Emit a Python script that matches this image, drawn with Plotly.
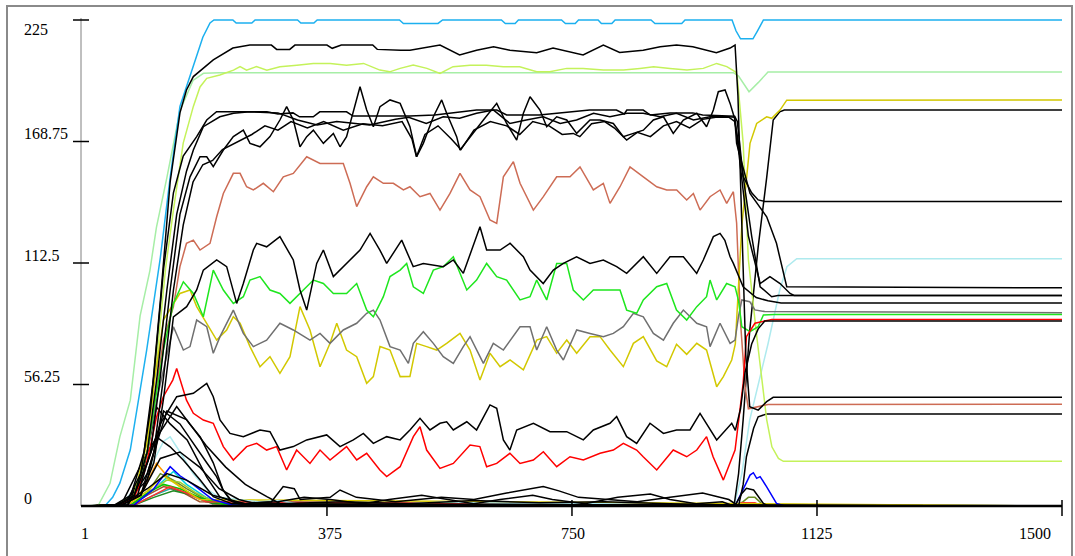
import plotly.graph_objects as go

# ---------------- data ----------------
blue_x = [1, 35, 47, 58, 74, 99, 120, 135, 150, 165, 185, 196, 202, 231, 236, 260, 265, 330, 335, 355,
          360, 486, 492, 545, 552, 642, 648, 663, 668, 734, 740, 755, 760, 790, 795, 811, 816, 871, 877, 918,
          923, 995, 1001, 1008, 1027, 1034, 1043, 1500]
blue_y = [0, 0, 4, 10.6, 26, 72, 115, 152, 185, 199, 217, 223.6, 225, 225, 223.6, 223.6, 225, 225, 223.6, 223.6,
          225, 225, 223.4, 223.4, 225, 225, 223.4, 223.4, 225, 225, 223.4, 223.4, 225, 225, 223.4, 223.4, 225, 225, 223.4, 223.4,
          225, 225, 220, 216.3, 216.3, 220, 225, 225]

pg_x = [1, 25, 43, 58, 74, 89, 104, 114, 130, 150, 170, 186, 210, 997, 1005, 1012, 1021, 1035, 1050, 1500]
pg_y = [0, 0.3, 10.5, 32, 49, 88, 109, 129, 152, 183, 197, 200.3, 200.6, 200.6, 199, 196, 191.8, 196, 200.9, 200.9]

gy_x = [1, 50, 80, 100, 115, 128, 140, 155, 170.5, 180.7, 191, 211, 232, 242, 252, 267, 283, 303, 329, 354,
        380, 405, 431, 456, 471, 487, 507, 528, 548, 568, 594, 619, 645, 670, 696, 716, 742, 767, 798, 829,
        854, 875, 900, 926, 951, 971.5, 987, 1000, 1003, 1012, 1020, 1033, 1048, 1056, 1066, 1073.5, 1500]
gy_y = [0, 0.3, 5, 30, 70, 110, 137, 168, 185, 194, 198, 199.5, 201.8, 203.4, 201.8, 203.4, 201.8, 203.4, 204.1, 204.9,
        204.9, 204.1, 204.9, 201.8, 201, 202.6, 204.1, 202.6, 200.3, 203.4, 204.1, 204.1, 203.4, 203.4, 201, 201, 202.6, 202.6, 201.8, 201.8,
        202.6, 203.4, 202.6, 201.8, 202.6, 204.9, 203.4, 201, 198.7, 168, 114, 78, 40, 27.4, 22, 20.7, 20.7]

k1_x = [1, 50, 70, 90, 105, 120, 135, 150, 160, 170.5, 201, 231, 257, 290, 298, 318, 326, 375, 383, 397,
        445, 452, 488, 502, 548, 578, 604, 630, 655, 696, 721, 767, 798, 823, 859, 885, 910, 935, 971, 992,
        999.6, 1004, 1010, 1016, 1022, 1035, 1048, 1058, 1500]
k1_y = [0, 0.3, 3, 15, 45, 95, 150, 182, 192.6, 198.8, 206.5, 212, 213.4, 213.4, 211.4, 211.4, 213.4, 213.4, 211.9, 213.4,
        213.4, 211.4, 211, 211, 213.4, 208.8, 211, 212.6, 211, 209.8, 212, 208.8, 213.4, 210, 211, 212.6, 213.4, 212.6, 209.8, 212,
        213.4, 190, 130, 70, 46, 44.4, 48.3, 50.3, 50.3]

k2_x = [1, 50, 75, 95, 110, 125, 140, 155, 175.6, 191, 206, 283, 300, 323, 333, 354, 364, 405, 415, 502,
        540, 604, 635, 650, 700, 777, 818, 830, 834, 859, 870, 900, 935, 950, 999, 1003, 1012, 1025, 1035, 1045, 1500]
k2_y = [0, 0.5, 5, 25, 60, 110, 145, 162, 171, 178.7, 182.5, 182.5, 181.5, 182, 180.2, 180.2, 182.5, 182.5, 180.5, 180.5,
        181, 183.3, 183.3, 181, 181, 183.3, 183.3, 181.5, 183.3, 183.3, 181, 182, 182, 181, 180.5, 178, 152.5, 145, 141.7, 141, 141]

k3_x = [1, 55, 80, 100, 115, 130, 145, 160, 170.5, 185.8, 211, 232, 257, 300, 330, 360, 390, 420, 440, 480,
        500, 527, 553, 578, 604, 630, 655, 680, 706, 732, 757, 783, 808, 834, 859, 885, 910, 936, 961, 990,
        999, 1002, 1022.5, 1048, 1063, 1078.7, 1500]
k3_y = [0, 0.5, 5, 25, 60, 100, 135, 155, 164.8, 175.6, 180.2, 181.8, 182.5, 182, 178.7, 176.4, 178, 177, 176.4, 179,
        180, 177.1, 180.2, 179.5, 181.8, 183.3, 177.1, 178.7, 180.2, 177.1, 178.7, 181.8, 180.2, 181.8, 181.8, 180.2, 181.8, 178.7, 180.2, 180.2,
        180, 167.9, 144.7, 133.9, 121.6, 101.5, 101]

k4_x = [1, 55, 85, 105, 120, 135, 150, 165.4, 180.7, 191, 201, 216.4, 231.7, 247, 257.2, 272.5, 287.8, 303, 313.3, 323.5,
        333.7, 344, 354.2, 369.5, 384.8, 395, 405, 415.4, 425.6, 435.8, 446, 456.2, 471.5, 487, 502, 512.3, 522.5, 537.8, 550.6, 558.2,
        573.5, 578.6, 594, 614.4, 634.8, 650, 665.4, 675.6, 685.8, 701, 711.3, 726.6, 742, 757.2, 777.6, 793, 813.3, 828.6, 844, 859.2,
        874.6, 890, 905, 920.5, 941, 956, 966.4, 974, 984.3, 992, 999.6, 1007, 1020, 1038, 1053, 1068.5, 1083.8, 1090, 1500]
k4_y = [0, 0.3, 5, 25, 60, 100, 135, 152.4, 161.7, 161.7, 157.1, 164.8, 171, 174, 167.9, 166.3, 171, 178.7, 184.9, 178.7,
        166.3, 171, 174, 167.9, 172.5, 166.3, 171, 183.3, 194.1, 183.3, 175.6, 184.9, 188, 186.4, 175.6, 161.7, 167.9, 180.2, 188, 181.8,
        171, 164.8, 171, 178.7, 186.4, 177.1, 169.4, 181.8, 189.5, 183.3, 175.6, 180.2, 178.7, 172.5, 178.7, 178.7, 177.1, 171, 172.5, 174,
        178.7, 180.2, 172.5, 178.7, 181.8, 175.6, 183.3, 191.8, 192.6, 186.4, 178.7, 160.2, 125, 103, 106.2, 103, 98.4, 97.5, 97.5]

k4b_x = [1, 60, 90, 110, 125, 140, 155, 170, 185, 200, 215, 235, 260, 280, 300, 320, 345, 370, 400, 430,
         460, 490, 505, 512, 525, 545, 565, 580, 600, 625, 650, 670, 690, 715, 735, 752, 762, 780, 800, 815,
         823.5, 833.7, 850, 870, 890, 910, 930, 950, 970, 990, 999, 1005, 1012, 1025, 1038, 1055.7, 1065, 1500]
k4b_y = [0, 0.3, 5, 25, 60, 100, 130, 150, 158, 160, 165, 168, 172, 176, 174, 178, 175, 178, 174, 177,
         176, 178, 170, 161.7, 172, 176, 170, 165, 174, 178, 176, 172, 178, 176, 172, 172.5, 171, 177, 178, 175,
         172.5, 169.4, 173, 171, 176, 178, 175, 179, 180, 180, 178, 168, 152.5, 125, 101.5, 96.9, 97.5, 97.5]

k5_x = [1, 60, 90, 110, 125, 140, 160.3, 175.6, 185.8, 206.2, 221.5, 236.8, 247, 262.3, 267.4, 282.7, 303, 323.5, 333.7, 344,
        359.3, 369.5, 384.8, 405, 425.6, 441, 456, 466.4, 489.4, 507, 522.5, 553, 568.4, 583.7, 596, 609.2, 619.4, 640, 655.2, 675.6,
        685.8, 706, 721.5, 736.8, 757, 777.6, 798, 818.4, 833.7, 859.2, 879.7, 900, 920.5, 940.9, 951, 966.4, 976.6, 984, 992, 997,
        1012, 1032, 1050, 1070, 1500]
k5_y = [0, 0.3, 5, 20, 50, 87.6, 92.3, 100, 109.2, 113.9, 110.8, 93.8, 103, 118.5, 121.6, 120, 124.7, 113.9, 100, 90.7,
        112.3, 118.5, 106.2, 112.3, 118.5, 126.2, 118.5, 112.3, 123.1, 110.8, 112.3, 110.8, 113.9, 107.7, 118, 129.3, 118.5, 118.5, 121.6, 115.4,
        109.2, 103, 109.2, 112.3, 115.4, 112.3, 113.9, 110.8, 107.7, 115.4, 107.7, 115.4, 115.4, 107.7, 113.9, 124.7, 126.2, 123, 115.4, 112.3,
        101.5, 96.5, 95, 94, 94]

k6_x = [1, 55, 80, 100, 120, 145, 170.5, 191, 201, 211.3, 226.6, 247, 272.5, 287.8, 303, 323.5, 344, 374.6, 395, 415.4,
        430.7, 446, 466.4, 487, 502, 517.4, 532.7, 548, 558.2, 568.4, 589, 604, 624.5, 634.8, 645, 655, 665.4, 691, 716.4, 742,
        767.4, 782.7, 808.2, 818.4, 833.7, 849, 869.4, 890, 910, 930.7, 946, 961.3, 971.5, 994.5, 1000, 1008, 1015, 1025, 1035, 1045, 1500]
k6_y = [0, 0.3, 5, 20, 38, 50.6, 52.2, 56.8, 50.6, 39.8, 33.6, 32.1, 35.2, 34.4, 25.9, 27.5, 30.6, 32.9, 27.5, 30.6,
        33.6, 29, 32.1, 30.6, 35.2, 40.6, 35.2, 38.3, 39, 35.2, 39, 35.2, 46.8, 45.2, 30.6, 25.9, 35.2, 38.3, 34.4, 34.4,
        30.6, 35.2, 38.3, 41.4, 32.1, 29, 38.3, 33.6, 35.2, 35.2, 42.9, 35.2, 30.6, 38.3, 35, 45, 62, 75, 82, 85.6, 85.6]

red_x = [1, 55, 80, 95, 105, 114, 124.5, 139, 145, 160, 170.5, 185.8, 201, 216.4, 231.7, 252, 267.4, 282.7, 298, 313.3,
         328.6, 349, 364.4, 379.7, 405, 420.5, 435.8, 456, 466.4, 487, 507.2, 517.4, 527.6, 548, 568.4, 594, 609, 619.4, 634.8, 655,
         670.5, 690.9, 706.2, 726.6, 747, 767.4, 793, 813.3, 828.6, 849, 859, 879.7, 905, 925.6, 941, 956, 966, 981.7, 999.6, 1012,
         1017, 1030, 1056, 1500]
red_y = [0, 0.3, 4, 15, 28, 41, 50.6, 58.3, 63.7, 49, 42.9, 39.8, 38.3, 27.5, 21.3, 27.5, 29, 25.9, 27.5, 16.7,
         25.9, 19.7, 25.9, 21.3, 27.5, 21.3, 24.4, 16.7, 13.6, 18.2, 32.1, 36.7, 25.9, 17.4, 19.7, 28.2, 27.5, 18.2, 19.7, 24.4,
         19.7, 21.3, 25.1, 18.2, 22.8, 21.3, 24.4, 25.9, 29, 25.9, 22.8, 16.7, 25.9, 22.8, 25.9, 32.1, 22.8, 12, 25.9, 56.8,
         78.4, 84.6, 86.4, 86.4]

green_x = [1, 55, 80, 100, 110, 124.6, 140, 155.2, 170.5, 185.8, 201, 216.4, 231.7, 247, 257.2, 272.5, 287.8, 303, 318.4, 338.9,
           354.2, 369.5, 384.8, 405, 420.5, 435.8, 446, 461.3, 471.5, 487, 497, 507.2, 522.5, 537.8, 553, 568.4, 589, 604, 619.4, 634.8,
           650, 670.5, 685.8, 696, 711.3, 726.6, 741.9, 752, 767.4, 782.7, 803, 823.5, 833.7, 849, 859.2, 879.7, 895, 910, 925.6, 941,
           956, 961.3, 971.5, 986.7, 999.6, 1005, 1010, 1022.5, 1035, 1043, 1060, 1500]
green_y = [0, 0.3, 5, 25, 45, 72.2, 93.8, 103.8, 98.4, 87.6, 109.2, 100, 93.8, 96.9, 104.6, 106.2, 100, 98.4, 93.8, 100,
           104.6, 103, 98.4, 98.4, 103, 90.7, 87.6, 96.9, 106.2, 109.2, 112.3, 101.5, 98.4, 109.2, 110.8, 115.4, 100, 104.6, 112.3, 106.2,
           104.6, 95.4, 96.9, 104.6, 95.4, 112.3, 112.3, 100, 95.4, 100, 100, 100, 90.7, 89.2, 95.4, 101.5, 103, 90.7, 86.1, 92.3,
           96.9, 104.6, 95.4, 103, 101.5, 95, 83, 80.7, 83, 88.4, 88.6, 88.6]

gray_x = [1, 55, 80, 100, 115, 130, 140, 155.2, 165.4, 175.6, 191, 201, 211.3, 231.7, 247, 262.3, 282.7, 303, 323.5, 349,
          364.4, 379.7, 400, 420.5, 435.8, 446, 456.2, 471.5, 487, 499.6, 507.2, 522.5, 537.8, 553, 568.4, 583.7, 594, 614.4, 629.6, 645,
          670.5, 685.8, 696, 711.3, 726.6, 736.8, 757.2, 777.6, 798, 813.3, 828.6, 844, 859.2, 874.6, 890, 905, 920.5, 941, 956, 961.3,
          976.6, 992, 999.6, 1005, 1010, 1022, 1030, 1045, 1500]
gray_y = [0, 0.3, 5, 25, 50, 70, 83, 72.2, 73.8, 86.1, 83, 70.7, 78.4, 90.7, 79.9, 73.8, 76.8, 84.6, 81.5, 76.8,
          79.9, 75.3, 81.5, 84.6, 89.2, 90.7, 86.1, 73.8, 72.2, 66, 75.3, 80.7, 75.3, 69.1, 66, 73.8, 78.4, 66, 75.3, 72.2,
          83, 83, 72.2, 83, 72.2, 67.6, 81.5, 79.9, 78.4, 79.9, 83, 89.2, 87.6, 79.9, 76.8, 84.6, 90.7, 84.6, 83, 73.8,
          84.6, 75.3, 76.8, 88, 95.4, 94.6, 90.8, 90, 89.5]

yel_x = [1, 55, 80, 100, 112, 124.6, 150, 165.4, 175.6, 191, 206.2, 221.5, 231.7, 242, 257.2, 272.5, 287.8, 303, 318.4, 333.7,
         349, 364.4, 379.7, 390, 405, 420.5, 435.8, 446, 456.2, 471.5, 487, 502, 512.3, 527.6, 543, 558.2, 578.6, 594, 609.2, 624.5,
         640, 655.2, 675.6, 696, 711.3, 726.6, 742, 757.2, 777.6, 793, 808.2, 828.6, 844, 859.2, 879.7, 895, 910, 925.6, 941, 956,
         966.4, 971.5, 981.7, 994.5, 1000, 1010, 1022.5, 1032.7, 1048, 1055.7, 1068.4, 1078.7, 1500]
yel_y = [0, 0.3, 5, 30, 60, 86.1, 98.4, 100, 92.3, 84.6, 76.8, 81.5, 87.6, 84.6, 73.8, 64.5, 69.1, 61.4, 69.1, 92.3,
         81.5, 64.5, 75.3, 84.6, 72.2, 69.1, 56.8, 59.9, 73.8, 72.2, 59.9, 60, 75.3, 73.8, 72.2, 75.3, 79.9, 72.2, 58.3, 70.7,
         64.5, 67.6, 63, 76.8, 78.4, 70.7, 76.8, 70.7, 78.4, 78.4, 72.2, 64.5, 75.3, 78.4, 67.2, 64.5, 74.9, 70.2, 75.3, 72.2,
         59.9, 55.2, 59.9, 67.6, 75, 130, 167.9, 177.1, 180.2, 179.5, 183.3, 187.9, 188]

cor_x = [1, 55, 80, 100, 124.6, 140, 150, 160, 170.5, 180.7, 196, 206.2, 216.4, 231.7, 242, 252, 262.3, 277.6, 293, 308.2,
         323.5, 344, 364.4, 384.8, 400, 410.3, 420.5, 435.8, 446, 461.3, 476.6, 492, 502, 517.4, 532.7, 548, 563.3, 578.6, 594, 609.2,
         624.5, 634.8, 645, 660.3, 670.5, 690.9, 706.2, 726.6, 747, 762.3, 782.7, 798, 808.2, 823.5, 838.8, 859.2, 879.7, 895, 910.3, 925.6,
         935.8, 946, 961.3, 976.6, 986.8, 997, 1002, 1008, 1015, 1020, 1035, 1050, 1500]
cor_y = [0, 0.3, 5, 25, 76.8, 92.3, 110.8, 121.6, 123.1, 118.5, 121.6, 133.9, 144.7, 154, 154, 147.8, 146.3, 149.4, 145.5, 152.4,
         154, 161.7, 158.6, 158.6, 158.6, 149.4, 138.6, 147.8, 152.4, 149.4, 149.4, 146.3, 147.8, 143.2, 144.7, 137, 144.7, 154, 146.3, 143.2,
         132.4, 130.8, 152.4, 159.4, 149.4, 137, 143.2, 152.4, 152.4, 157, 146.3, 149.4, 140.1, 147.8, 157, 152.4, 147.8, 146.3, 146.3, 141.7,
         144.7, 137, 143.2, 146.3, 140.1, 145.5, 131, 85, 55, 45, 46, 47, 47.1]

lc_x = [1, 60, 100, 125, 135, 150, 170, 190, 210, 240, 270, 300, 330, 400, 500, 560, 600, 700, 800, 900,
        998, 1010, 1022, 1050, 1068, 1079, 1094, 1500]
lc_y = [0, 0.5, 15, 30, 32, 25, 15, 8, 4, 3, 2, 2.5, 1, 0.5, 1, 2, 1.5, 1, 1, 0.5,
        0, 15, 39.8, 75, 100, 110.8, 114.5, 114.5]

s1_x = [1, 60, 100, 130, 160, 200, 250, 290, 308, 325, 334, 380, 395, 420, 480, 550, 600, 650, 706, 730,
        760, 800, 850, 900, 950, 990, 1005, 1012, 1017, 1028, 1035, 1048, 1500]
s1_y = [0, 0.5, 8, 15, 12, 5, 1, 2, 9, 8, 3, 4, 7.4, 4, 2, 4, 3, 6, 9, 7,
        4, 3, 2, 4, 6, 3, 0, 10, 22.8, 36, 41.3, 42.6, 42.6]
s2_x = [1, 60, 90, 120, 150, 180, 210, 240, 260, 300, 340, 380, 430, 470, 520, 560, 600, 640, 690, 720,
        770, 820, 870, 900, 940, 980, 998, 1005, 1012, 1022, 1035, 1048, 1058, 1068, 1075, 1500]
s2_y = [0, 0.3, 5, 22, 25, 18, 8, 3, 1.5, 2, 4, 3, 1, 3, 5, 3, 1, 3, 5, 3,
        1, 4, 5.5, 3, 1, 2, 0, 15, 40, 81, 120, 152, 178.7, 182.5, 183.3, 183.3]
s3_x = [1, 60, 100, 125, 150, 170, 191, 206, 216, 230, 260, 300, 400, 500, 600, 700, 800, 900, 1000, 1010,
        1017, 1028, 1043, 1050, 1500]
s3_y = [0, 0.5, 12, 44, 38, 29, 20, 13.6, 7.4, 2, 0.5, 1, 2, 1, 2.5, 1.5, 2, 1, 0.5, 5.8,
        8.2, 7.4, 1.2, 0, 0]
s4_x = [1, 60, 100, 145, 165, 181, 201, 216, 227, 250, 1500]
s4_y = [0, 0.5, 25, 46, 38, 32, 20, 7.4, 2.7, 0.5, 0]
s5_x = [1, 70, 95, 114, 135, 161, 191, 211, 240, 1500]
s5_y = [0, 0.5, 18, 45.8, 38, 30.6, 13.4, 4.2, 1, 0]
s6_x = [1, 70, 100, 114, 135, 155, 181, 201, 230, 1500]
s6_y = [0, 0.5, 20, 32, 27.4, 21.3, 12, 4.3, 1, 0]
s7_x = [1, 70, 100, 130, 160, 190, 220, 250, 283, 303, 330, 1500]
s7_y = [0, 0.5, 15, 44, 40, 28, 18, 10, 4.3, 1.2, 0, 0]

orange_x = [1, 70, 95, 114, 130, 150, 175, 210, 1500]
orange_y = [0, 0.5, 8, 19.7, 14, 9, 4, 0.5, 0]
cyan_x = [1, 75, 100, 125, 140, 160, 190, 230, 1500]
cyan_y = [0, 0.5, 5, 12, 16, 10, 4, 0.5, 0]
olive_x = [1, 75, 100, 120, 140, 160, 190, 220, 1000, 1012, 1020, 1030, 1040, 1050, 1500]
olive_y = [0, 0.5, 6, 15, 12, 8, 3, 0.5, 0, 2, 4, 4, 1.2, 0, 0]
lsalmon_x = [1, 70, 100, 120, 140, 165, 200, 1500]
lsalmon_y = [0, 0.5, 6, 10, 8, 5, 1, 0]
teal_x = [1, 80, 110, 135, 160, 190, 1500]
teal_y = [0, 0.5, 5, 8, 6, 2, 0]
ygreen_x = [1, 75, 105, 130, 150, 175, 210, 1500]
ygreen_y = [0, 0.5, 7, 12, 11, 6, 1, 0]
brown_x = [1, 75, 100, 125, 150, 180, 1500]
brown_y = [0, 0.5, 5, 9, 7, 2, 0]
dgreen_x = [1, 80, 110, 140, 170, 200, 1500]
dgreen_y = [0, 0.5, 4, 7, 5, 1, 0]
green2_x = [1, 75, 100, 125, 150, 180, 220, 540, 555, 565, 580, 1500]
green2_y = [0, 0.5, 6, 10, 8, 4, 0.5, 0, 2, 1.5, 0, 0]
red2_x = [1, 80, 110, 135, 160, 190, 1000, 1010, 1030, 1040, 1500]
red2_y = [0, 0.5, 5, 9, 6, 2, 0, 1.5, 1.5, 0, 0]
gold_x = [1, 70, 100, 125, 150, 180, 1500]
gold_y = [0, 0.5, 7, 14, 9, 3, 0]
bsmall_x = [1, 80, 110, 135, 150, 170, 200, 230, 999.6, 1012, 1022.5, 1027.6, 1032.7, 1038, 1048, 1063, 1076, 1500]
bsmall_y = [0, 0.5, 8, 18.2, 14, 10, 3, 0.5, 0, 7.4, 14.3, 15.4, 12.8, 13.6, 8.9, 1.2, 0, 0]

y_ticks = [56.25, 112.5, 168.75, 225]
y_tick_labels = ["56.25", "112.5", "168.75", "225"]
x_ticks = [375, 750, 1125, 1500]
x_tick_labels = ["1", "375", "750", "1125", "1500"]

# ---------------- layout geometry ----------------
W, H = 1075, 556
ML, MR, MT, MB = 70, 5, 10, 30
PW, PH = W - ML - MR, H - MT - MB
X1_PX, X2_PX = 82.6, 1062.0
Y0_PX, Y1_PX = 506.0, 20.0
sx = (X2_PX - X1_PX) / 1499.0
sy = (Y0_PX - Y1_PX) / 225.0
xr = [1 - (X1_PX - ML) / sx, 1500 + (W - MR - X2_PX) / sx]
yr = [0 - (H - MB - Y0_PX) / sy, 225 + (Y1_PX - MT) / sy]
x_yaxis = 1 - (X1_PX - 81.0) / sx

series = [
    (orange_x, orange_y, "#ff9900"), (cyan_x, cyan_y, "#00d2dc"), (olive_x, olive_y, "#6b8e23"),
    (lsalmon_x, lsalmon_y, "#ffa07a"), (teal_x, teal_y, "#20b2aa"), (ygreen_x, ygreen_y, "#9acd32"),
    (brown_x, brown_y, "#a0522d"), (dgreen_x, dgreen_y, "#228b22"), (green2_x, green2_y, "#00cc00"),
    (red2_x, red2_y, "#ff3030"), (gold_x, gold_y, "#d8c800"), (bsmall_x, bsmall_y, "#0000ff"),
    (lc_x, lc_y, "#aeeaee"),
    (s4_x, s4_y, "#000000"), (s5_x, s5_y, "#000000"), (s6_x, s6_y, "#000000"), (s7_x, s7_y, "#000000"),
    (s3_x, s3_y, "#000000"), (s1_x, s1_y, "#000000"), (s2_x, s2_y, "#000000"),
    (pg_x, pg_y, "#a6eea6"), (gy_x, gy_y, "#c4f25a"), (blue_x, blue_y, "#1cb0ef"),
    (cor_x, cor_y, "#cd6c55"), (yel_x, yel_y, "#d2c800"), (gray_x, gray_y, "#707070"),
    (green_x, green_y, "#1ee61e"), (red_x, red_y, "#ff0000"),
    (k6_x, k6_y, "#000000"), (k5_x, k5_y, "#000000"), (k4b_x, k4b_y, "#000000"), (k4_x, k4_y, "#000000"),
    (k3_x, k3_y, "#000000"), (k2_x, k2_y, "#000000"), (k1_x, k1_y, "#000000"),
]

fig = go.Figure()
for xs, ys, col in series:
    assert len(xs) == len(ys), (len(xs), len(ys), col)
    fig.add_trace(go.Scatter(x=xs, y=ys, mode="lines", line=dict(color=col, width=1.5),
                             hoverinfo="skip", showlegend=False))

shapes = []
# outer frame
shapes.append(dict(type="rect", xref="paper", yref="paper",
                   x0=(7 - ML) / PW, x1=(1072 - ML) / PW,
                   y0=(H - MB - 570) / PH, y1=(H - MB - 6) / PH,
                   line=dict(color="#8a8a8a", width=2), fillcolor="rgba(0,0,0,0)", layer="above"))
# y axis line
shapes.append(dict(type="line", xref="x", yref="y", x0=x_yaxis, x1=x_yaxis, y0=0, y1=225 + 2 / sy,
                   line=dict(color="#808080", width=1), layer="above"))
# x axis line
shapes.append(dict(type="line", xref="x", yref="y", x0=x_yaxis, x1=1500, y0=0, y1=0,
                   line=dict(color="#000000", width=2.5), layer="above"))
for yt in y_ticks:
    shapes.append(dict(type="line", xref="x", yref="y", xsizemode="pixel", xanchor=x_yaxis,
                       x0=-8, x1=8, y0=yt, y1=yt, line=dict(color="#000000", width=1.5), layer="above"))
for xt in x_ticks:
    shapes.append(dict(type="line", xref="x", yref="y", ysizemode="pixel", yanchor=0,
                       x0=xt, x1=xt, y0=-10, y1=6, line=dict(color="#000000", width=1.5), layer="above"))

font = dict(family="Liberation Serif, Times New Roman, serif", size=16, color="#000000")
ann = []
for yt, lab in zip(y_ticks, y_tick_labels):
    ann.append(dict(x=(22 - ML) / PW, xref="paper", y=yt, yref="y", text=lab, showarrow=False,
                    xanchor="left", yanchor="middle", yshift=(-9 if yt == 225 else 8), font=font))
ann.append(dict(x=(22 - ML) / PW, xref="paper", y=0, yref="y", text="0", showarrow=False,
                xanchor="left", yanchor="middle", yshift=8, font=font))
for xt, lab, anc, xs_ in zip([1, 375, 750, 1125, 1500], x_tick_labels,
                             ["center", "center", "center", "center", "right"], [2, 3, 1, 0, -9]):
    ann.append(dict(x=xt, xref="x", y=0, yref="y", text=lab, showarrow=False, xanchor=anc,
                    yanchor="middle", xshift=xs_, yshift=-27, font=font))

fig.update_layout(
    width=W, height=H, margin=dict(l=ML, r=MR, t=MT, b=MB, autoexpand=False),
    paper_bgcolor="#ffffff", plot_bgcolor="#ffffff",
    xaxis=dict(range=xr, visible=False, showgrid=False, zeroline=False, fixedrange=True),
    yaxis=dict(range=yr, visible=False, showgrid=False, zeroline=False, fixedrange=True),
    shapes=shapes, annotations=ann, showlegend=False,
)
fig.write_html("out.html", config={"displayModeBar": False})
